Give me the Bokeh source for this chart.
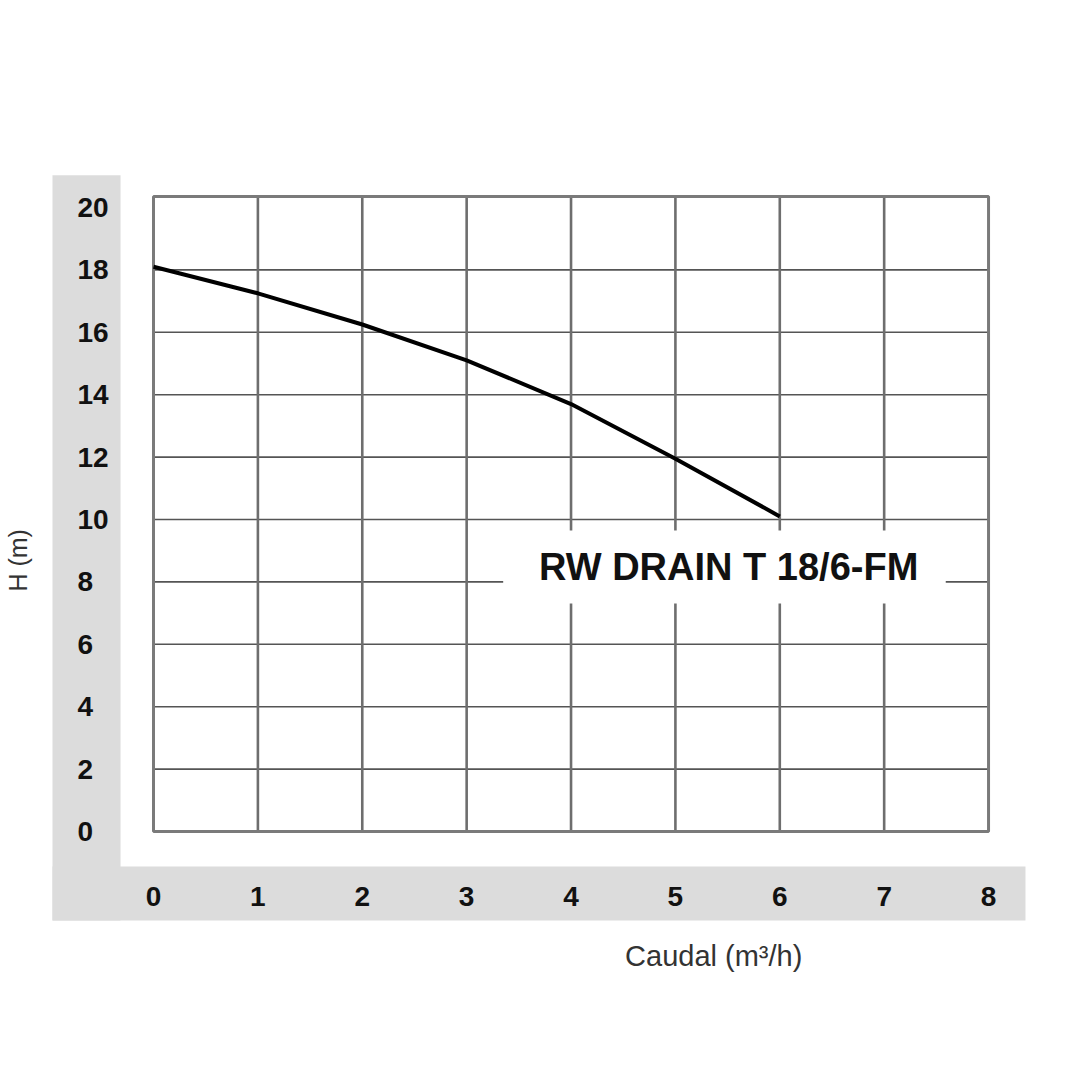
import bokeh.plotting
from bokeh.core.properties import value
from bokeh.embed import file_html
from bokeh.resources import INLINE

# pump curve
flow = [0, 1, 2, 3, 4, 5, 6]
head = [18.1, 17.25, 16.25, 15.1, 13.7, 11.95, 10.1]

x_ticks = [0, 1, 2, 3, 4, 5, 6, 7, 8]
y_ticks = [0, 2, 4, 6, 8, 10, 12, 14, 16, 18, 20]
x_labels = [str(v) for v in x_ticks]
y_labels = [str(v) for v in y_ticks]

model_name = "RW DRAIN T 18/6-FM"
x_title = "Caudal (m³/h)"
y_title = "H (m)"

FONT = value("Liberation Sans")
GRAY = "#dcdcdc"
y_top = 20.35  # the drawn frame sits a little above the 20 line

p = bokeh.plotting.figure(
    width=1080,
    height=1080,
    x_range=(-1.466, 8.881),
    y_range=(-7.981, 26.635),
    output_backend="svg",
    toolbar_location=None,
    min_border=0,
    outline_line_color=None,
)
p.axis.visible = False
p.grid.visible = False

# gray L-shaped band behind the tick labels
p.quad(left=[-0.968], right=[-0.316], bottom=[-2.853], top=[21.03],
       color=GRAY, line_color=None)
p.quad(left=[-0.968], right=[8.354], bottom=[-2.853], top=[-1.122],
       color=GRAY, line_color=None)

# grid
inner_y = y_ticks[1:-1]
p.segment(x0=[x_ticks[0]] * len(inner_y), x1=[x_ticks[-1]] * len(inner_y),
          y0=inner_y, y1=inner_y, line_color="#555555", line_width=1.6)
inner_x = x_ticks[1:-1]
p.segment(x0=inner_x, x1=inner_x, y0=[0] * len(inner_x), y1=[y_top] * len(inner_x),
          line_color="#6e6e6e", line_width=2.6)
p.quad(left=[x_ticks[0]], right=[x_ticks[-1]], bottom=[0], top=[y_top],
       fill_color=None, line_color="#7a7a7a", line_width=3)

# curve
p.line(flow, head, line_color="black", line_width=4, line_join="round")

# model label on a white patch
p.quad(left=[3.35], right=[7.59], bottom=[7.31], top=[9.65],
       color="white", line_color=None)
p.text(x=[5.51], y=[8.48], text=[model_name], text_font=FONT,
       text_font_style="bold", text_font_size="38px", text_color="#111111",
       text_align="center", text_baseline="middle")

# tick labels
p.text(x=[-0.728] * len(y_ticks), y=y_ticks, text=y_labels, text_font=FONT,
       text_font_style="bold", text_font_size="28px", text_color="#111111",
       text_align="left", text_baseline="middle")
p.text(x=x_ticks, y=[-2.083] * len(x_ticks), text=x_labels, text_font=FONT,
       text_font_style="bold", text_font_size="28px", text_color="#111111",
       text_align="center", text_baseline="middle")

# axis titles
p.text(x=[5.367], y=[-3.99], text=[x_title], text_font=FONT,
       text_font_size="29px", text_color="#333333",
       text_align="center", text_baseline="middle")
p.text(x=[-1.303], y=[8.69], text=[y_title], text_font=FONT,
       text_font_size="25px", text_color="#333333", angle=1.5708,
       text_align="center", text_baseline="middle")

open("out.html", "w").write(file_html(p, INLINE))
